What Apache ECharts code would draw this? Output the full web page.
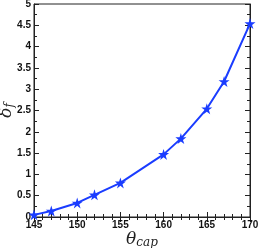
<!DOCTYPE html>
<html><head><meta charset="utf-8">
<script src="https://cdn.jsdelivr.net/npm/echarts@6/dist/echarts.min.js"></script>
<style>html,body{margin:0;padding:0;background:#fff}#c{width:258px;height:248px}</style>
</head><body><div id="c"></div>
<script>
const thetaCap = [145, 147, 150, 152, 155, 160, 162, 165, 167, 170];
const deltaF = [0.05, 0.14, 0.33, 0.52, 0.8, 1.47, 1.84, 2.54, 3.18, 4.54];
const xTicks = {min: 145, max: 170, interval: 5};
const yTicks = {min: 0, max: 5, interval: 0.5};

const star = 'path://M50,0 L61.8,35.4 L100,35.4 L69.1,57.3 L80.9,92.7 L50,70.8 L19.1,92.7 L30.9,57.3 L0,35.4 L38.2,35.4 Z';
const lab = {color: '#111', fontSize: 10, fontWeight: 'bold', fontFamily: 'Liberation Sans, Arial, sans-serif'};
const tickIn = {inside: true, length: 5, lineStyle: {color: '#222', width: 1}};
const minorIn = {show: true, length: 3, lineStyle: {color: '#222', width: 1}};

const chart = echarts.init(document.getElementById('c'));
chart.setOption({
  animation: false,
  grid: {left: 34, right: 8, top: 4, bottom: 31, show: true, borderColor: '#222', borderWidth: 1,
         containLabel: false, outerBoundsMode: 'none'},
  xAxis: [{
    type: 'value', min: xTicks.min, max: xTicks.max, interval: xTicks.interval,
    axisLine: {show: true, lineStyle: {color: '#222'}},
    axisTick: tickIn, minorTick: Object.assign({splitNumber: 5}, minorIn),
    splitLine: {show: false},
    axisLabel: Object.assign({margin: 3}, lab),
    name: '{a|θ}{b|cap}', nameLocation: 'middle', nameGap: 13, nameMoveOverlap: false,
    nameTextStyle: {rich: {
      a: {fontFamily: 'DejaVu Serif, serif', fontStyle: 'italic', fontSize: 17, color: '#222'},
      b: {fontFamily: 'DejaVu Serif, serif', fontStyle: 'italic', fontSize: 12, color: '#222', padding: [7, 0, 0, 0]}
    }}
  }, {
    type: 'value', position: 'top', min: xTicks.min, max: xTicks.max, interval: xTicks.interval,
    axisLine: {show: true, lineStyle: {color: '#222'}},
    axisTick: tickIn, minorTick: Object.assign({splitNumber: 5}, minorIn),
    splitLine: {show: false}, axisLabel: {show: false}
  }],
  yAxis: [{
    type: 'value', min: yTicks.min, max: yTicks.max, interval: yTicks.interval,
    axisLine: {show: true, lineStyle: {color: '#222'}},
    axisTick: tickIn, minorTick: Object.assign({splitNumber: 2}, minorIn),
    splitLine: {show: false},
    axisLabel: Object.assign({margin: 3}, lab),
    name: '{a|δ}{b|f}', nameLocation: 'middle', nameGap: 18, nameRotate: 90, nameMoveOverlap: false,
    nameTextStyle: {rich: {
      a: {fontFamily: 'DejaVu Serif, serif', fontStyle: 'italic', fontSize: 17, color: '#222'},
      b: {fontFamily: 'DejaVu Serif, serif', fontStyle: 'italic', fontSize: 12, color: '#222', padding: [7, 0, 0, 0]}
    }}
  }, {
    type: 'value', position: 'right', min: yTicks.min, max: yTicks.max, interval: yTicks.interval,
    axisLine: {show: true, lineStyle: {color: '#222'}},
    axisTick: tickIn, minorTick: Object.assign({splitNumber: 2}, minorIn),
    splitLine: {show: false}, axisLabel: {show: false}
  }],
  series: [{
    type: 'line',
    data: thetaCap.map((x, i) => [x, deltaF[i]]),
    lineStyle: {color: '#1a3cff', width: 2},
    itemStyle: {color: '#1a3cff'},
    symbol: star, symbolSize: 11, showSymbol: true,
    clip: false
  }]
});
</script></body></html>
